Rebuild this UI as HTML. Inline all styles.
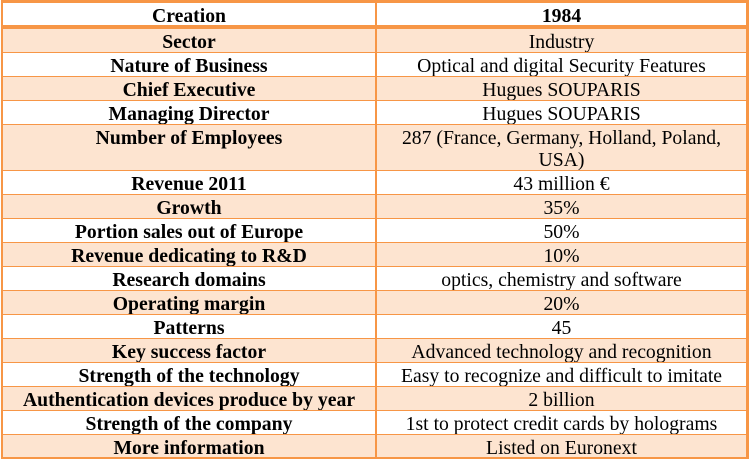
<!DOCTYPE html>
<html><head><meta charset="utf-8"><style>
body{margin:0;width:750px;height:459px;background:#fff;overflow:hidden;font-family:"Liberation Serif","Times New Roman",serif;font-size:19.7px;color:#000}
.r{position:absolute;left:2px;width:745px;border:1px solid #f79646;box-sizing:border-box;display:flex}
.c{flex:0 0 372px;border-right:2px solid #f79646;text-align:center;font-weight:bold;line-height:22px;white-space:nowrap;padding-top:2px}
.v{flex:1;text-align:center;line-height:22px;white-space:nowrap;padding-top:2px}
.p{background:#fde4d0}
#o{position:absolute;left:1px;top:0;width:748px;height:459px;border:2px solid #f79646;box-sizing:border-box;pointer-events:none}
</style></head><body>
<div class="r" style="top:2px;height:24px"><div class="c">Creation</div><div class="v" style="font-weight:bold">1984</div></div>
<div class="r p" style="top:28px;height:25px"><div class="c">Sector</div><div class="v">Industry</div></div>
<div class="r" style="top:52px;height:25px"><div class="c">Nature of Business</div><div class="v">Optical and digital Security Features</div></div>
<div class="r p" style="top:76px;height:25px"><div class="c">Chief Executive</div><div class="v">Hugues SOUPARIS</div></div>
<div class="r" style="top:100px;height:25px"><div class="c">Managing Director</div><div class="v">Hugues SOUPARIS</div></div>
<div class="r p" style="top:124px;height:47px"><div class="c">Number of Employees</div><div class="v">287 (France, Germany, Holland, Poland,<br>USA)</div></div>
<div class="r" style="top:170px;height:25px"><div class="c">Revenue 2011</div><div class="v">43 million €</div></div>
<div class="r p" style="top:194px;height:25px"><div class="c">Growth</div><div class="v">35%</div></div>
<div class="r" style="top:218px;height:25px"><div class="c">Portion sales out of Europe</div><div class="v">50%</div></div>
<div class="r p" style="top:242px;height:25px"><div class="c">Revenue dedicating to R&amp;D</div><div class="v">10%</div></div>
<div class="r" style="top:266px;height:25px"><div class="c">Research domains</div><div class="v">optics, chemistry and software</div></div>
<div class="r p" style="top:290px;height:25px"><div class="c">Operating margin</div><div class="v">20%</div></div>
<div class="r" style="top:314px;height:25px"><div class="c">Patterns</div><div class="v">45</div></div>
<div class="r p" style="top:338px;height:25px"><div class="c">Key success factor</div><div class="v">Advanced technology and recognition</div></div>
<div class="r" style="top:362px;height:25px"><div class="c">Strength of the technology</div><div class="v">Easy to recognize and difficult to imitate</div></div>
<div class="r p" style="top:386px;height:25px"><div class="c">Authentication devices produce by year</div><div class="v">2 billion</div></div>
<div class="r" style="top:410px;height:25px"><div class="c">Strength of the company</div><div class="v">1st to protect credit cards by holograms</div></div>
<div class="r p" style="top:434px;height:24px"><div class="c">More information</div><div class="v">Listed on Euronext</div></div>
<div style="position:absolute;left:2px;top:25px;width:746px;height:3px;background:#f79646"></div>
<div id="o"></div>
</body></html>
